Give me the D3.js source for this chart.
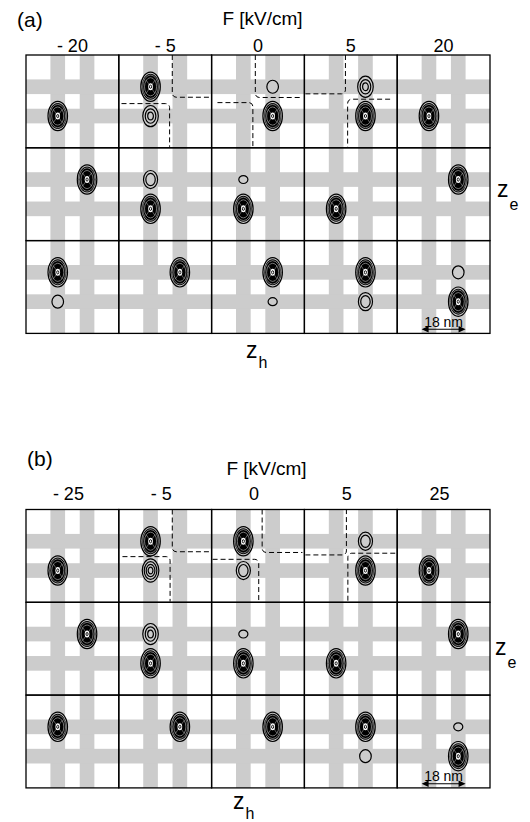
<!DOCTYPE html>
<html>
<head>
<meta charset="utf-8">
<script src="https://cdn.jsdelivr.net/npm/d3@7"></script>
<style>
body { margin: 0; background: #fff; }
text { font-family: "Liberation Sans", Arial, sans-serif; fill: #000; }
</style>
</head>
<body>
<script>

// column headers, F [kV/cm]
var fieldsA = ["- 20", "- 5", "0", "5", "20"];
var fieldsB = ["- 25", "- 5", "0", "5", "25"];
var states = [0, 1, 2];            // rows of each panel
var dotCenters = [-6, 6];          // nm, the two dots
var dotWidth = 6;                  // nm
var cellRange = [-19, 19];         // nm shown in one cell
var scaleBarNm = 18;

// [column, row, z_h, z_e, contour level]   level 9 = saturated blob
var blobsA = [
	[0, 0, -6, -6, 9], [1, 0, -6, 6, 9], [1, 0, -6, -6, 3], [2, 0, 6, 6, 1],
	[2, 0, 6, -6, 9], [3, 0, 6, 6, 3], [3, 0, 6, -6, 9], [4, 0, -6, -6, 9],
	[0, 1, 6, 6, 9], [1, 1, -6, 6, 2], [1, 1, -6, -6, 9], [2, 1, -6, 6, 0.5],
	[2, 1, -6, -6, 9], [3, 1, -6, -6, 9], [4, 1, 6, 6, 9],
	[0, 2, -6, 6, 9], [0, 2, -6, -6, 1], [1, 2, 6, 6, 9], [2, 2, 6, 6, 9],
	[2, 2, 6, -6, 0.5], [3, 2, 6, 6, 9], [3, 2, 6, -6, 2], [4, 2, 6, 6, 1],
	[4, 2, 6, -6, 9]
];
var blobsB = [
	[0, 0, -6, -6, 9], [1, 0, -6, 6, 9], [1, 0, -6, -6, 4], [2, 0, -6, 6, 9],
	[2, 0, -6, -6, 2], [3, 0, 6, 6, 2], [3, 0, 6, -6, 9], [4, 0, -6, -6, 9],
	[0, 1, 6, 6, 9], [1, 1, -6, 6, 3], [1, 1, -6, -6, 9], [2, 1, -6, 6, 0.5],
	[2, 1, -6, -6, 9], [3, 1, -6, -6, 9], [4, 1, 6, 6, 9],
	[0, 2, -6, 6, 9], [1, 2, 6, 6, 9], [2, 2, 6, 6, 9], [3, 2, 6, 6, 9],
	[3, 2, 6, -6, 1], [4, 2, 6, 6, 0.5], [4, 2, 6, -6, 9]
];

// dashed boundaries (top row): [column, [[z_h, z_e], ...]]
var dashA = [
	[1, [[2.9, 19], [2.9, 1.7], [18.6, 1.7]]],
	[1, [[-17.9, -0.9], [1.8, -0.9], [1.8, -18.6]]],
	[2, [[-1.1, 19], [-1.1, 1.6], [18.2, 1.6]]],
	[2, [[-16.6, -0.5], [-2.1, -0.5], [-2.1, -18.6]]],
	[3, [[-18.6, 3.1], [-2.2, 3.1], [-2.2, 19]]],
	[3, [[16.1, 0.9], [-1.3, 0.9], [-1.3, -18.6]]]
];
var dashB = [
	[1, [[2.9, 19], [2.9, 1.7], [18.6, 1.7]]],
	[1, [[-17.5, -0.3], [2.0, -0.3], [2.0, -18.7]]],
	[2, [[1.7, 19], [1.7, 1.4], [18.2, 1.4]]],
	[2, [[-18.6, -1.4], [0.3, -1.4], [0.3, -18.8]]],
	[3, [[-18.6, 0.4], [-1.8, 0.4], [-1.8, 19]]],
	[3, [[18.2, 1.1], [-1.2, 1.1], [-1.2, -18.8]]]
];

/*************************************************/

var width = 530, height = 822;
var svg = d3.select("body").append("svg")
	.attr("width", width)
	.attr("height", height);

var cell = 92.8, left = 26;
var barColor = "#cccccc";

var panels = [
	{ name: "(a)", fields: fieldsA, blobs: blobsA, dashes: dashA, top: 55,
		lx: 17, ly: 26.5, fx: 262.5, fy: 25, cy: 52, cdx: 0, zex: 497, zey: 197, zhx: 246, zhy: 358 },
	{ name: "(b)", fields: fieldsB, blobs: blobsB, dashes: dashB, top: 509.5,
		lx: 27, ly: 466, fx: 266.5, fy: 475, cy: 500, cdx: -4, zex: 495, zey: 655, zhx: 233, zhy: 809 }
];

function roundedPath(pts, r) {
	var p = d3.path();
	p.moveTo(pts[0][0], pts[0][1]);
	for (var i = 1; i < pts.length - 1; i++) p.arcTo(pts[i][0], pts[i][1], pts[i + 1][0], pts[i + 1][1], r);
	p.lineTo(pts[pts.length - 1][0], pts[pts.length - 1][1]);
	return p.toString();
}

function drawBlob(g, level) {
	var rx = 5.8 + 1.8 * Math.log(level),
		ry = 6.5 + 3.7 * Math.log(level);
	function ell(s, fill, stroke, sw) {
		g.append("ellipse").attr("rx", rx * s).attr("ry", ry * s)
			.attr("fill", fill).attr("stroke", stroke).attr("stroke-width", sw);
	}
	if (level >= 9) {
		ell(1, "none", "#000", 1.2);
		ell(0.89, "#000", "none", 0);
		ell(0.8, "none", "#fff", 0.45);
		ell(0.62, "none", "#fff", 0.45);
		// faint cross of the inner lobes
		g.append("path")
			.attr("d", "M" + (-rx * 0.45) + "," + (-ry * 0.45) + "L" + (rx * 0.45) + "," + (ry * 0.45) +
				"M" + (rx * 0.45) + "," + (-ry * 0.45) + "L" + (-rx * 0.45) + "," + (ry * 0.45))
			.attr("stroke", "#fff").attr("stroke-width", 0.45).attr("opacity", 0.8);
		ell(0.24, "#fff", "none", 0);
		ell(0.11, "none", "#000", 0.9);
		return;
	}
	var n = Math.max(1, Math.floor(level));
	var step = Math.min(0.33, 0.95 / n);
	for (var i = 0; i < n; i++) ell(1 - i * step, "none", "#000", 1.2);
}

panels.forEach(function (p) {
	var g = svg.append("g");
	var ncol = p.fields.length;
	var col = d3.scaleBand().domain(d3.range(ncol)).range([left, left + cell * ncol]);
	var row = d3.scaleBand().domain(states).range([p.top, p.top + cell * states.length]);
	var zx = d3.scaleLinear().domain(cellRange).range([0, cell]);
	var zy = d3.scaleLinear().domain([cellRange[1], cellRange[0]]).range([0, cell]);
	function px(c, zh) { return col(c) + zx(zh); }
	function py(r, ze) { return row(r) + zy(ze); }
	var bw = zx(dotWidth) - zx(0);
	var bottom = p.top + cell * states.length, right = left + cell * ncol;

	// gray dot stripes
	var vb = [], hb = [];
	col.domain().forEach(function (c) { dotCenters.forEach(function (d) { vb.push([c, d]); }); });
	states.forEach(function (r) { dotCenters.forEach(function (d) { hb.push([r, d]); }); });
	g.selectAll(".vbar").data(vb).enter().append("rect")
		.attr("x", function (d) { return px(d[0], d[1]) - bw / 2 })
		.attr("y", p.top).attr("width", bw).attr("height", bottom - p.top)
		.attr("fill", barColor);
	g.selectAll(".hbar").data(hb).enter().append("rect")
		.attr("x", left).attr("width", right - left)
		.attr("y", function (d) { return py(d[0], d[1]) - bw / 2 })
		.attr("height", bw)
		.attr("fill", barColor);

	// blobs
	p.blobs.forEach(function (b) {
		var bg = g.append("g").attr("transform", "translate(" + px(b[0], b[2]) + "," + py(b[1], b[3]) + ")");
		drawBlob(bg, b[4]);
	});

	// dashed boundaries
	g.selectAll(".dash").data(p.dashes).enter().append("path")
		.attr("d", function (d) {
			return roundedPath(d[1].map(function (q) { return [px(d[0], q[0]), py(0, q[1])]; }), 4);
		})
		.attr("fill", "none").attr("stroke", "#000").attr("stroke-width", 1)
		.attr("stroke-dasharray", "5,3");

	// cell frames
	var cells = [];
	col.domain().forEach(function (c) { states.forEach(function (r) { cells.push([c, r]); }); });
	g.selectAll(".cell").data(cells).enter().append("rect")
		.attr("x", function (d) { return col(d[0]) })
		.attr("y", function (d) { return row(d[1]) })
		.attr("width", cell).attr("height", cell)
		.attr("fill", "none").attr("stroke", "#000").attr("stroke-width", 1.3);

	// column headers
	g.selectAll(".fl").data(p.fields).enter().append("text")
		.attr("x", function (d, i) { return col(i) + cell / 2 + p.cdx })
		.attr("y", p.cy)
		.attr("text-anchor", "middle").style("font-size", "18px")
		.text(function (d) { return d });

	g.append("text").attr("x", p.lx).attr("y", p.ly).style("font-size", "21px").text(p.name);
	g.append("text").attr("x", p.fx).attr("y", p.fy).attr("text-anchor", "middle")
		.style("font-size", "19px").text("F [kV/cm]");

	var ze = g.append("text").attr("x", p.zex).attr("y", p.zey).style("font-size", "23px");
	ze.append("tspan").text("z");
	ze.append("tspan").attr("dx", 1).attr("dy", 13).style("font-size", "16px").text("e");
	var zh = g.append("text").attr("x", p.zhx).attr("y", p.zhy).style("font-size", "23px");
	zh.append("tspan").text("z");
	zh.append("tspan").attr("dx", 1).attr("dy", 10).style("font-size", "16px").text("h");

	// 18 nm scale bar
	var c4 = ncol - 1, r2 = states.length - 1;
	var x1 = px(c4, -scaleBarNm / 2), x2 = px(c4, scaleBarNm / 2), ya = py(r2, -17.3);
	g.append("line").attr("x1", x1 + 4).attr("x2", x2 - 4).attr("y1", ya).attr("y2", ya)
		.attr("stroke", "#000").attr("stroke-width", 1.2);
	g.append("path").attr("d", "M" + x1 + "," + ya + "l7,-3.2v6.4z M" + x2 + "," + ya + "l-7,-3.2v6.4z")
		.attr("fill", "#000");
	g.append("text").attr("x", px(c4, 0)).attr("y", ya - 2.5).attr("text-anchor", "middle")
		.style("font-size", "14px").text(scaleBarNm + " nm");
});

</script>
</body>
</html>
